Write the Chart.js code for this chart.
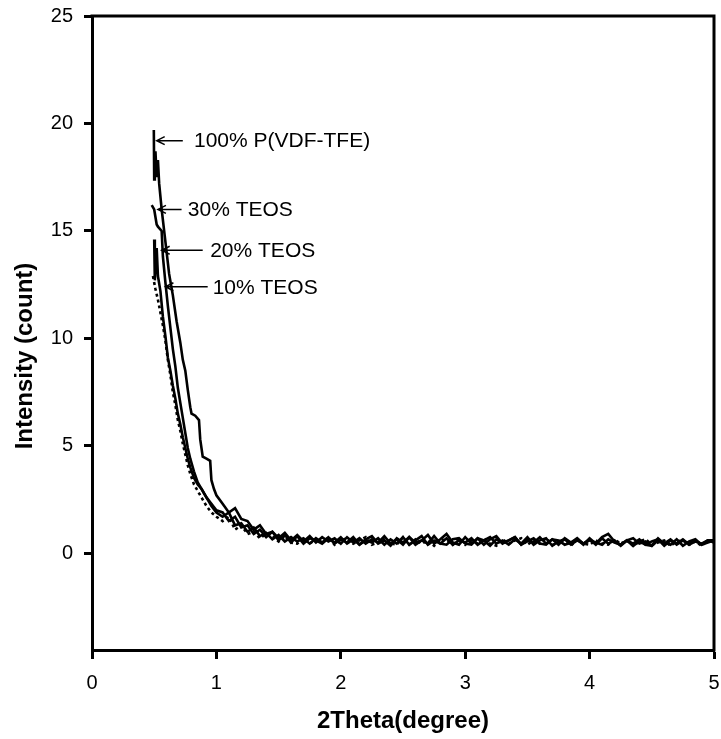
<!DOCTYPE html>
<html>
<head>
<meta charset="utf-8">
<script src="https://cdn.jsdelivr.net/npm/chart.js@4/dist/chart.umd.min.js"></script>
<style>
  body { margin: 0; background: #fff; }
  #wrap { width: 721px; height: 739px; }
</style>
</head>
<body>
<div id="wrap"><canvas id="myChart" width="721" height="739"></canvas></div>
<script>
// x (2Theta) and y (intensity) values
const xTicks = [0, 1, 2, 3, 4, 5];
const yTicks = [0, 5, 10, 15, 20, 25];

const seriesNames = ['100% P(VDF-TFE)', '30% TEOS', '20% TEOS', '10% TEOS'];

const head100Theta = [0.497, 0.50, 0.505, 0.51, 0.52, 0.53, 0.54, 0.56, 0.58, 0.60, 0.62, 0.65, 0.68, 0.71, 0.73, 0.75, 0.77, 0.79, 0.80, 0.83, 0.86, 0.87, 0.89, 0.92, 0.95, 0.96, 0.98, 1.00];
const head100 = [19.7, 17.4, 18.5, 18.7, 17.5, 18.3, 17.2, 16.0, 15.0, 14.0, 13.0, 12.0, 10.8, 9.8, 9.0, 8.5, 7.6, 6.8, 6.5, 6.4, 6.2, 5.3, 4.5, 4.4, 4.3, 3.4, 3.0, 2.7];

const head30Theta = [0.48, 0.50, 0.52, 0.53, 0.56, 0.57, 0.59, 0.61, 0.63, 0.65, 0.67, 0.69, 0.71, 0.73, 0.75, 0.77, 0.79, 0.82, 0.85, 0.88, 0.92, 0.96, 1.00];
const head30 = [16.2, 16.0, 15.3, 15.2, 15.0, 13.8, 12.6, 11.5, 10.5, 9.5, 8.7, 7.7, 7.0, 6.3, 5.6, 4.9, 4.4, 3.8, 3.3, 3.0, 2.6, 2.3, 2.0];

const head20Theta = [0.50, 0.505, 0.52, 0.53, 0.55, 0.57, 0.59, 0.61, 0.63, 0.65, 0.67, 0.69, 0.71, 0.73, 0.75, 0.77, 0.79, 0.82, 0.85, 0.88, 0.92, 0.96, 1.00];
const head20 = [14.6, 12.7, 14.2, 12.9, 12.2, 11.0, 10.1, 9.1, 8.5, 7.8, 7.2, 6.5, 6.0, 5.4, 4.9, 4.4, 4.0, 3.5, 3.2, 3.0, 2.6, 2.2, 1.9];

const head10Theta = [0.49, 0.51, 0.53, 0.55, 0.57, 0.59, 0.61, 0.63, 0.65, 0.67, 0.69, 0.71, 0.73, 0.75, 0.77, 0.79, 0.82, 0.85, 0.88, 0.92, 0.96, 1.00];
const head10 = [12.9, 12.3, 11.8, 11.2, 10.6, 9.9, 9.0, 8.3, 7.5, 6.9, 6.2, 5.7, 5.1, 4.6, 4.1, 3.7, 3.2, 2.9, 2.6, 2.2, 1.9, 1.7];

const tailTheta = [1.05, 1.10, 1.15, 1.20, 1.25, 1.30, 1.35, 1.40, 1.45, 1.50, 1.55, 1.60, 1.65, 1.70, 1.75, 1.80, 1.85, 1.90, 1.95, 2.00,
  2.05, 2.10, 2.15, 2.20, 2.25, 2.30, 2.35, 2.40, 2.45, 2.50, 2.55, 2.60, 2.65, 2.70, 2.75, 2.80, 2.85, 2.90, 2.95, 3.00,
  3.05, 3.10, 3.15, 3.20, 3.25, 3.30, 3.35, 3.40, 3.45, 3.50, 3.55, 3.60, 3.65, 3.70, 3.75, 3.80, 3.85, 3.90, 3.95, 4.00,
  4.05, 4.10, 4.15, 4.20, 4.25, 4.30, 4.35, 4.40, 4.45, 4.50, 4.55, 4.60, 4.65, 4.70, 4.75, 4.80, 4.85, 4.90, 4.95, 5.00];

const tail100 = [2.3, 1.9, 2.1, 1.6, 1.5, 1.1, 1.3, 0.9, 1.0, 0.7, 0.95, 0.6, 0.85, 0.55, 0.8, 0.5, 0.75, 0.55, 0.7, 0.45,
  0.75, 0.5, 0.7, 0.45, 0.65, 0.5, 0.8, 0.45, 0.65, 0.4, 0.75, 0.5, 0.6, 0.85, 0.45, 0.65, 0.9, 0.5, 0.4, 0.75,
  0.45, 0.7, 0.4, 0.65, 0.8, 0.45, 0.6, 0.75, 0.4, 0.65, 0.5, 0.75, 0.45, 0.65, 0.4, 0.7, 0.5, 0.65, 0.4, 0.7,
  0.45, 0.75, 0.9, 0.55, 0.4, 0.6, 0.35, 0.55, 0.4, 0.35, 0.7, 0.45, 0.65, 0.4, 0.6, 0.45, 0.6, 0.4, 0.6, 0.6];
const tail30 = [1.9, 1.5, 1.7, 1.2, 1.3, 0.9, 1.1, 0.75, 1.0, 0.6, 0.85, 0.5, 0.8, 0.45, 0.7, 0.6, 0.45, 0.7, 0.5, 0.75,
  0.45, 0.65, 0.4, 0.6, 0.5, 0.7, 0.4, 0.65, 0.45, 0.75, 0.4, 0.6, 0.8, 0.4, 0.6, 0.45, 0.7, 0.4, 0.6, 0.5,
  0.7, 0.4, 0.6, 0.75, 0.45, 0.6, 0.4, 0.65, 0.45, 0.75, 0.4, 0.6, 0.7, 0.35, 0.55, 0.65, 0.4, 0.6, 0.45, 0.65,
  0.4, 0.7, 0.45, 0.6, 0.35, 0.6, 0.45, 0.65, 0.4, 0.55, 0.65, 0.35, 0.6, 0.45, 0.65, 0.4, 0.55, 0.45, 0.6, 0.5];
const tail20 = [1.7, 1.9, 1.3, 1.4, 1.0, 1.2, 0.8, 0.95, 0.65, 0.85, 0.55, 0.75, 0.55, 0.7, 0.45, 0.7, 0.5, 0.75, 0.45, 0.65,
  0.5, 0.75, 0.4, 0.65, 0.8, 0.45, 0.6, 0.35, 0.7, 0.5, 0.75, 0.4, 0.6, 0.45, 0.8, 0.45, 0.4, 0.65, 0.7, 0.45,
  0.4, 0.7, 0.6, 0.35, 0.65, 0.5, 0.6, 0.75, 0.4, 0.55, 0.7, 0.45, 0.4, 0.65, 0.6, 0.4, 0.5, 0.7, 0.45, 0.6,
  0.5, 0.4, 0.65, 0.5, 0.4, 0.6, 0.7, 0.45, 0.55, 0.35, 0.6, 0.5, 0.4, 0.65, 0.35, 0.55, 0.65, 0.4, 0.5, 0.6];
const tail10 = [1.5, 1.7, 1.1, 1.3, 0.9, 1.0, 0.7, 0.9, 0.8, 0.55, 0.8, 0.5, 0.45, 0.7, 0.45, 0.65, 0.5, 0.75, 0.4, 0.6,
  0.7, 0.45, 0.6, 0.75, 0.4, 0.5, 0.7, 0.45, 0.4, 0.75, 0.4, 0.65, 0.45, 0.6, 0.35, 0.65, 0.6, 0.4, 0.7, 0.4,
  0.6, 0.45, 0.7, 0.45, 0.35, 0.65, 0.45, 0.6, 0.7, 0.4, 0.6, 0.45, 0.7, 0.4, 0.45, 0.65, 0.35, 0.65, 0.45, 0.4,
  0.6, 0.45, 0.4, 0.65, 0.45, 0.6, 0.35, 0.55, 0.65, 0.4, 0.5, 0.6, 0.35, 0.55, 0.6, 0.4, 0.55, 0.35, 0.6, 0.5];

// arrow tip (x, y), arrow tail x, label x -- in data units
const notes = [
  { text: seriesNames[0], tipX: 0.52, y: 19.2, tailX: 0.73, textX: 0.82 },
  { text: seriesNames[1], tipX: 0.53, y: 16.0, tailX: 0.72, textX: 0.77 },
  { text: seriesNames[2], tipX: 0.56, y: 14.1, tailX: 0.89, textX: 0.95 },
  { text: seriesNames[3], tipX: 0.59, y: 12.4, tailX: 0.93, textX: 0.97 }
];

function toPoints(hx, hy) {
  return hx.map((x, i) => ({ x: x, y: hy[i] }));
}
function series(hx, hy, ty) {
  return toPoints(hx, hy).concat(toPoints(tailTheta, ty));
}

const FONT = "'Liberation Sans', Arial, sans-serif";

const extras = {
  id: 'extras',
  afterDraw(chart) {
    const ctx = chart.ctx;
    const a = chart.chartArea;
    const sx = chart.scales.x, sy = chart.scales.y;
    ctx.save();
    // top and right frame
    ctx.strokeStyle = '#000';
    ctx.lineWidth = 3;
    ctx.beginPath();
    ctx.moveTo(a.left - 1.5, a.top);
    ctx.lineTo(a.right, a.top);
    ctx.lineTo(a.right, a.bottom + 1.5);
    ctx.stroke();

    // arrows and labels
    ctx.lineWidth = 1.5;
    ctx.fillStyle = '#000';
    ctx.font = '21px ' + FONT;
    ctx.textBaseline = 'middle';
    ctx.textAlign = 'left';
    notes.forEach(n => {
      const y = sy.getPixelForValue(n.y);
      const x1 = sx.getPixelForValue(n.tipX);
      const x2 = sx.getPixelForValue(n.tailX);
      ctx.beginPath();
      ctx.moveTo(x2, y);
      ctx.lineTo(x1, y);
      ctx.moveTo(x1 + 8, y - 4);
      ctx.lineTo(x1, y);
      ctx.lineTo(x1 + 8, y + 4);
      ctx.stroke();
      ctx.fillText(n.text, sx.getPixelForValue(n.textX), y + 1);
    });

    // y axis title
    ctx.font = 'bold 24px ' + FONT;
    ctx.textAlign = 'center';
    ctx.translate(25, 356);
    ctx.rotate(-Math.PI / 2);
    ctx.fillText('Intensity (count)', 0, 0);
    ctx.restore();
  }
};

const lineStyle = {
  borderColor: '#000',
  borderWidth: 2.6,
  pointRadius: 0,
  fill: false,
  tension: 0
};

new Chart(document.getElementById('myChart'), {
  type: 'line',
  data: {
    datasets: [
      Object.assign({ label: seriesNames[0], data: series(head100Theta, head100, tail100) }, lineStyle),
      Object.assign({ label: seriesNames[1], data: series(head30Theta, head30, tail30) }, lineStyle),
      Object.assign({ label: seriesNames[2], data: series(head20Theta, head20, tail20) }, lineStyle),
      Object.assign({ label: seriesNames[3], data: series(head10Theta, head10, tail10), borderDash: [3, 3] }, lineStyle)
    ]
  },
  options: {
    responsive: false,
    animation: false,
    layout: { padding: { top: 16, right: 7, left: 0, bottom: 0 } },
    plugins: { legend: { display: false }, tooltip: { enabled: false } },
    scales: {
      x: {
        type: 'linear',
        min: 0,
        max: 5,
        afterBuildTicks: s => { s.ticks = xTicks.map(v => ({ value: v })); },
        afterFit: s => { s.height = 89; s.paddingLeft = 0; s.paddingRight = 0; },
        grid: { display: true, drawOnChartArea: false, drawTicks: true, tickLength: 9, tickWidth: 3, color: '#000' },
        border: { display: true, color: '#000', width: 3 },
        ticks: { color: '#000', font: { family: FONT, size: 20 }, padding: 12, maxRotation: 0 },
        title: { display: true, text: '2Theta(degree)', color: '#000', font: { family: FONT, size: 24, weight: 'bold' }, padding: { top: 2, bottom: 3 } }
      },
      y: {
        type: 'linear',
        min: -4.5,
        max: 25,
        afterBuildTicks: s => { s.ticks = yTicks.map(v => ({ value: v })); },
        afterFit: s => { s.width = 92; s.paddingTop = 0; s.paddingBottom = 0; },
        grid: { display: true, drawOnChartArea: false, drawTicks: true, tickLength: 8, tickWidth: 3, color: '#000' },
        border: { display: true, color: '#000', width: 3 },
        ticks: { color: '#000', font: { family: FONT, size: 20 }, padding: 11 }
      }
    }
  },
  plugins: [extras]
});
</script>
</body>
</html>
